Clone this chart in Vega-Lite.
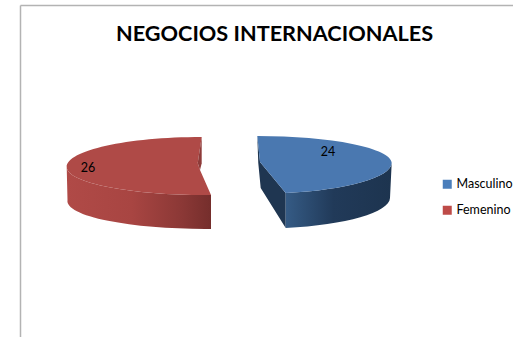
{
"$schema":"https://vega.github.io/schema/vega-lite/v6.json",
"width":493,"height":332,
"autosize":{"type":"none"},
"padding":{"left":20,"top":5,"right":0,"bottom":0},
"background":"white",
"config":{"view":{"stroke":null},"font":"Lato"},
"title":{"text":"NEGOCIOS INTERNACIONALES","font":"Lato","fontSize":21.7,"fontWeight":"bold","color":"#000000","anchor":"middle","dx":8,"offset":-41,"frame":"group"},
"data":{"values":[{"sexo":"Masculino","casos":24},{"sexo":"Femenino","casos":26}]},
"encoding":{
"x":{"field":"sexo","type":"nominal","scale":{"type":"band","domain":["Femenino","Masculino"],"paddingInner":0,"paddingOuter":0},"axis":{"orient":"top","title":null,"labels":false,"ticks":false,"grid":false,"domainColor":"#b3b3b3","domainWidth":1.5}},
"y":{"field":"casos","type":"quantitative","scale":{"domain":[0,50]},"axis":{"orient":"left","title":null,"labels":false,"ticks":false,"grid":false,"domainColor":"#b3b3b3","domainWidth":1.5}}
},
"layer":[
{"transform":[{"filter":"datum.sexo==='Femenino'"}],
 "mark":{"type":"point","filled":true,"opacity":1,"size":4,"strokeWidth":0,"shape":"M-76.55,2.64 L-75.75,35.64 A138,28 0 0 0 67.75,64.64 L67.75,30.64 A138,28 0 0 1 -76.55,2.64 Z",
 "fill":{"gradient":"linear","x1":0,"y1":0,"x2":1,"y2":0,"stops":[{"offset":0,"color":"#b04a47"},{"offset":0.45,"color":"#a84542"},{"offset":0.8,"color":"#8b3836"},{"offset":1,"color":"#752e2c"}]}}},
{"transform":[{"filter":"datum.sexo==='Femenino'"}],
 "mark":{"type":"point","filled":true,"opacity":1,"size":4,"strokeWidth":0,"shape":"M-76.55,2.64 A138,28 0 0 0 67.75,30.64 L56.75,5.64 L54.45,-1.36 L58.45,-27.36 A135,30 0 0 0 -76.55,2.64 Z","fill":"#af4a47"}},
{"transform":[{"filter":"datum.sexo==='Femenino'"}],
 "mark":{"type":"point","filled":true,"opacity":1,"size":4,"strokeWidth":0,"shape":"M58.45,-27.36 L54.45,-1.36 L56.75,5.64 L58.45,-1 Z","fill":"#8e3b39"}},
{"transform":[{"filter":"datum.sexo==='Masculino'"}],
 "mark":{"type":"point","filled":true,"opacity":1,"size":4,"strokeWidth":0,"shape":"M-132.45,-41.64 L-129.75,-15.64 L-104.05,15.36 L-104.05,50.36 L-129.05,10.36 L-131.5,-15 Z","fill":"#1f3651"}},
{"transform":[{"filter":"datum.sexo==='Masculino'"}],
 "mark":{"type":"point","filled":true,"opacity":1,"size":4,"strokeWidth":0,"shape":"M-104.05,15.36 A133,31 0 0 0 1.95,-14.64 L0.25,20.36 A133,31 0 0 1 -104.05,50.36 Z",
 "fill":{"gradient":"linear","x1":0,"y1":0,"x2":1,"y2":0,"stops":[{"offset":0,"color":"#355b85"},{"offset":0.45,"color":"#213a59"},{"offset":1,"color":"#1d344f"}]}}},
{"transform":[{"filter":"datum.sexo==='Masculino'"}],
 "mark":{"type":"point","filled":true,"opacity":1,"size":4,"strokeWidth":0,"shape":"M-132.45,-41.64 A134,27 0 0 1 1.95,-14.64 A133,31 0 0 1 -104.05,15.36 L-129.75,-15.64 Z","fill":"#4a78b0"}},
{"transform":[{"filter":"datum.sexo==='Masculino'"}],
 "mark":{"type":"text","font":"Lato","fontSize":12.5,"color":"#000000","dx":-61.75,"dy":-25.64},
 "encoding":{"text":{"field":"casos","type":"quantitative"}}},
{"transform":[{"filter":"datum.sexo==='Femenino'"}],
 "mark":{"type":"text","font":"Lato","fontSize":12.5,"color":"#000000","dx":-55.25,"dy":3.64},
 "encoding":{"text":{"field":"casos","type":"quantitative"}}},
{"mark":{"type":"point","filled":true,"opacity":1,"size":0},
 "encoding":{"color":{"field":"sexo","type":"nominal","scale":{"domain":["Masculino","Femenino"],"range":["#4a7ebb","#be4b48"]},
 "legend":{"orient":"none","legendX":421,"legendY":173,"title":null,"padding":0,"symbolType":"square","symbolSize":81,"symbolOpacity":1,"symbolStrokeWidth":0,"labelFont":"Lato","labelFontSize":12.5,"labelColor":"#000000","labelLimit":0,"labelOffset":3,"rowPadding":13}}}}
]
}
